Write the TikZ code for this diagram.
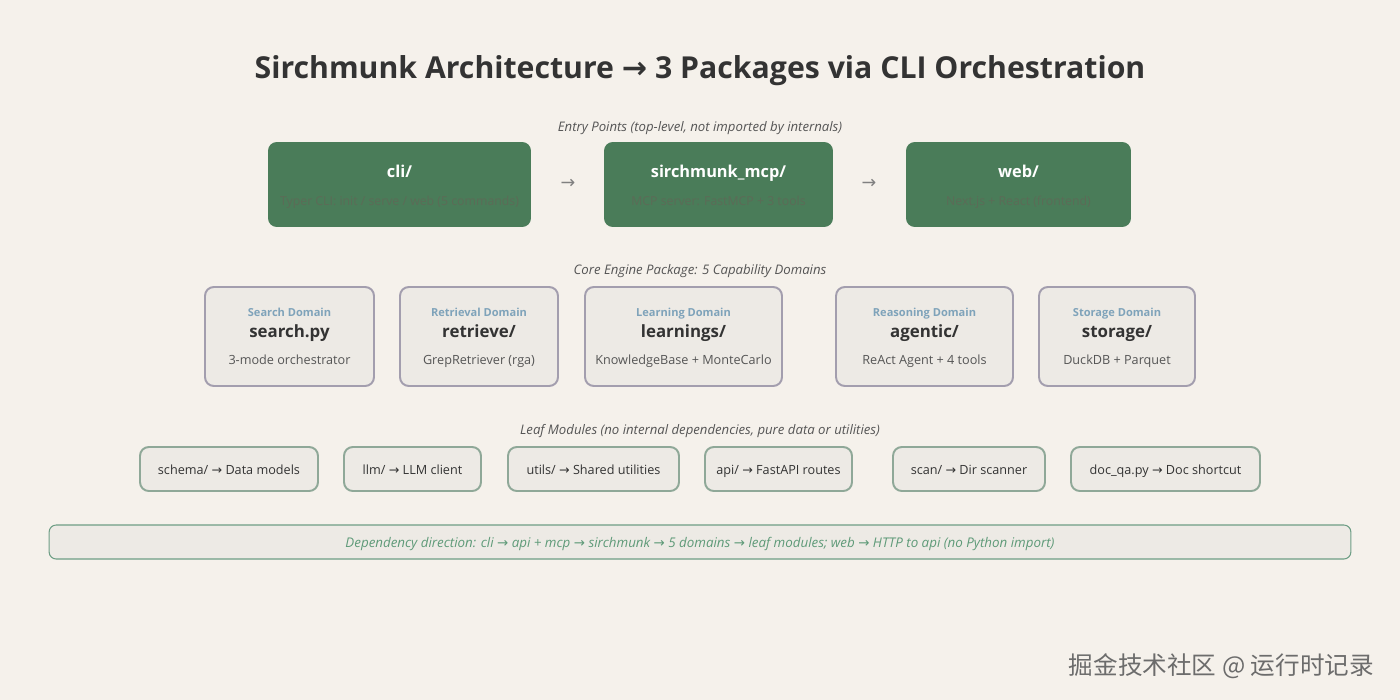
\documentclass[tikz,border=0pt]{standalone}
\usepackage{fontspec}
\setmainfont{Open Sans}
\newfontfamily\symfont{DejaVu Sans}
\newfontfamily\cjkfont{Noto Sans CJK SC}
\usetikzlibrary{positioning, calc}

\definecolor{bgcol}{HTML}{F5F1EB}
\definecolor{entrygreen}{HTML}{4A7C59}
\definecolor{fainttxt}{HTML}{5C6B57}
\definecolor{domfill}{HTML}{EDEAE5}
\definecolor{domline}{HTML}{A39EAE}
\definecolor{domlab}{HTML}{7FA3BA}
\definecolor{leafline}{HTML}{8FA898}
\definecolor{depline}{HTML}{6E9E85}
\definecolor{deptxt}{HTML}{5E9A78}
\definecolor{darktxt}{HTML}{333333}
\definecolor{greytxt}{HTML}{555555}
\newcommand{\ra}{{\symfont →}}

\begin{document}
\begin{tikzpicture}[
        x=0.02cm, y=-0.02cm,
        even/.style={text height=1.6ex, text depth=0.45ex},
        entry/.style={rectangle, rounded corners=5pt, fill=entrygreen, minimum height=1.70cm, inner sep=0pt},
        entrytitle/.style={even, font=\bfseries\fontsize{9.3}{11}\selectfont, text=white},
        entrysub/.style={even, font=\fontsize{7}{8}\selectfont, text=fainttxt},
        dombox/.style={rectangle, rounded corners=5pt, draw=domline, line width=1.1pt, fill=domfill, minimum height=1.98cm, inner sep=0pt},
        domlabel/.style={even, font=\bfseries\fontsize{6.3}{7}\selectfont, text=domlab},
        domname/.style={even, font=\bfseries\fontsize{9.6}{12}\selectfont, text=darktxt},
        domdesc/.style={even, font=\fontsize{7.2}{8}\selectfont, text=greytxt},
        leaf/.style={even, rectangle, rounded corners=5pt, draw=leafline, line width=1.1pt, fill=domfill, minimum height=0.88cm, inner sep=0pt, font=\fontsize{7.2}{8}\selectfont, text=darktxt},
        caption/.style={even, font=\itshape\fontsize{7.5}{8}\selectfont, text=greytxt},
        flow/.style={font=\fontsize{10}{11}\selectfont, text=gray}
    ]
    % page and background
    \fill[bgcol] (0,0) rectangle (1400,700);

    % Title
    \node[even, font=\bfseries\fontsize{17.2}{20}\selectfont, text=darktxt] (title) at (700,73) {Sirchmunk Architecture \ra{} 3 Packages via CLI Orchestration};

    % --- Entry points ---
    \node[caption] (entrycap) at (700,126) {Entry Points (top-level, not imported by internals)};
    \node[entry, minimum width=5.26cm] (cli) at (399.5,184.5) {};
    \node[entry, minimum width=4.58cm] (mcp) at (718.5,184.5) {};
    \node[entry, minimum width=4.50cm] (web) at (1018.5,184.5) {};

    \node[entrytitle] (cliT) at ([yshift=-0.60cm]cli.north) {cli/};
    \node[entrysub] (cliS) at ([yshift=-1.16cm]cli.north) {Typer CLI: init / serve / web (5 commands)};
    \node[entrytitle] (mcpT) at ([yshift=-0.60cm]mcp.north) {sirchmunk\_mcp/};
    \node[entrysub] (mcpS) at ([yshift=-1.16cm]mcp.north) {MCP server: FastMCP + 3 tools};
    \node[entrytitle] (webT) at ([yshift=-0.60cm]web.north) {web/};
    \node[entrysub] (webS) at ([yshift=-1.16cm]web.north) {Next.js + React (frontend)};

    % arrows between entry points
    \node[flow] (arrA) at (568,184) {\ra};
    \node[flow] (arrB) at (869,184) {\ra};

    % --- Core engine domains ---
    \node[caption] (corecap) at (700,269) {Core Engine Package: 5 Capability Domains};
    \node[dombox, minimum width=3.38cm] (search) at (289.5,336.5) {};
    \node[dombox, minimum width=3.16cm] (retrieve) at (479,336.5) {};
    \node[dombox, minimum width=3.94cm] (learn) at (683.5,336.5) {};
    \node[dombox, minimum width=3.54cm] (agentic) at (924.5,336.5) {};
    \node[dombox, minimum width=3.12cm] (storage) at (1117,336.5) {};

    \foreach \bx/\lab/\name/\desc in {
        search/Search Domain/search.py/3-mode orchestrator,
        retrieve/Retrieval Domain/{retrieve/}/GrepRetriever (rga),
        learn/Learning Domain/{learnings/}/KnowledgeBase + MonteCarlo,
        agentic/Reasoning Domain/{agentic/}/ReAct Agent + 4 tools,
        storage/Storage Domain/{storage/}/DuckDB + Parquet} {
        \node[domlabel] (\bx L) at ([yshift=-0.50cm]\bx.north) {\lab};
        \node[domname] (\bx N) at ([yshift=-0.92cm]\bx.north) {\name};
        \node[domdesc] (\bx D) at ([yshift=-1.47cm]\bx.north) {\desc};
    }

    % --- Leaf modules ---
    \node[caption] (leafcap) at (700,429) {Leaf Modules (no internal dependencies, pure data or utilities)};
    \node[leaf, minimum width=3.56cm] (schema) at (229,469) {schema/ \ra{} Data models};
    \node[leaf, minimum width=2.74cm] (llm) at (412.5,469) {llm/ \ra{} LLM client};
    \node[leaf, minimum width=3.42cm] (utils) at (593.5,469) {utils/ \ra{} Shared utilities};
    \node[leaf, minimum width=2.94cm] (api) at (778.5,469) {api/ \ra{} FastAPI routes};
    \node[leaf, minimum width=3.04cm] (scan) at (969,469) {scan/ \ra{} Dir scanner};
    \node[leaf, minimum width=3.78cm] (docqa) at (1165.5,469) {doc\_qa.py \ra{} Doc shortcut};

    % dependency note
    \node[even, rectangle, rounded corners=4pt, draw=depline, line width=0.6pt, fill=domfill, minimum width=26.04cm, minimum height=0.68cm, inner sep=0pt, font=\itshape\fontsize{7.6}{8}\selectfont, text=deptxt] (dep) at (700,542)
        {Dependency direction: cli \ra{} api + mcp \ra{} sirchmunk \ra{} 5 domains \ra{} leaf modules; web \ra{} HTTP to api (no Python import)};

    % watermark
    \node[font=\cjkfont\fontsize{14}{15}\selectfont, text=gray!85!black, anchor=east] (mark) at (1380,666) {掘金技术社区 @ 运行时记录};
\end{tikzpicture}
\end{document}
